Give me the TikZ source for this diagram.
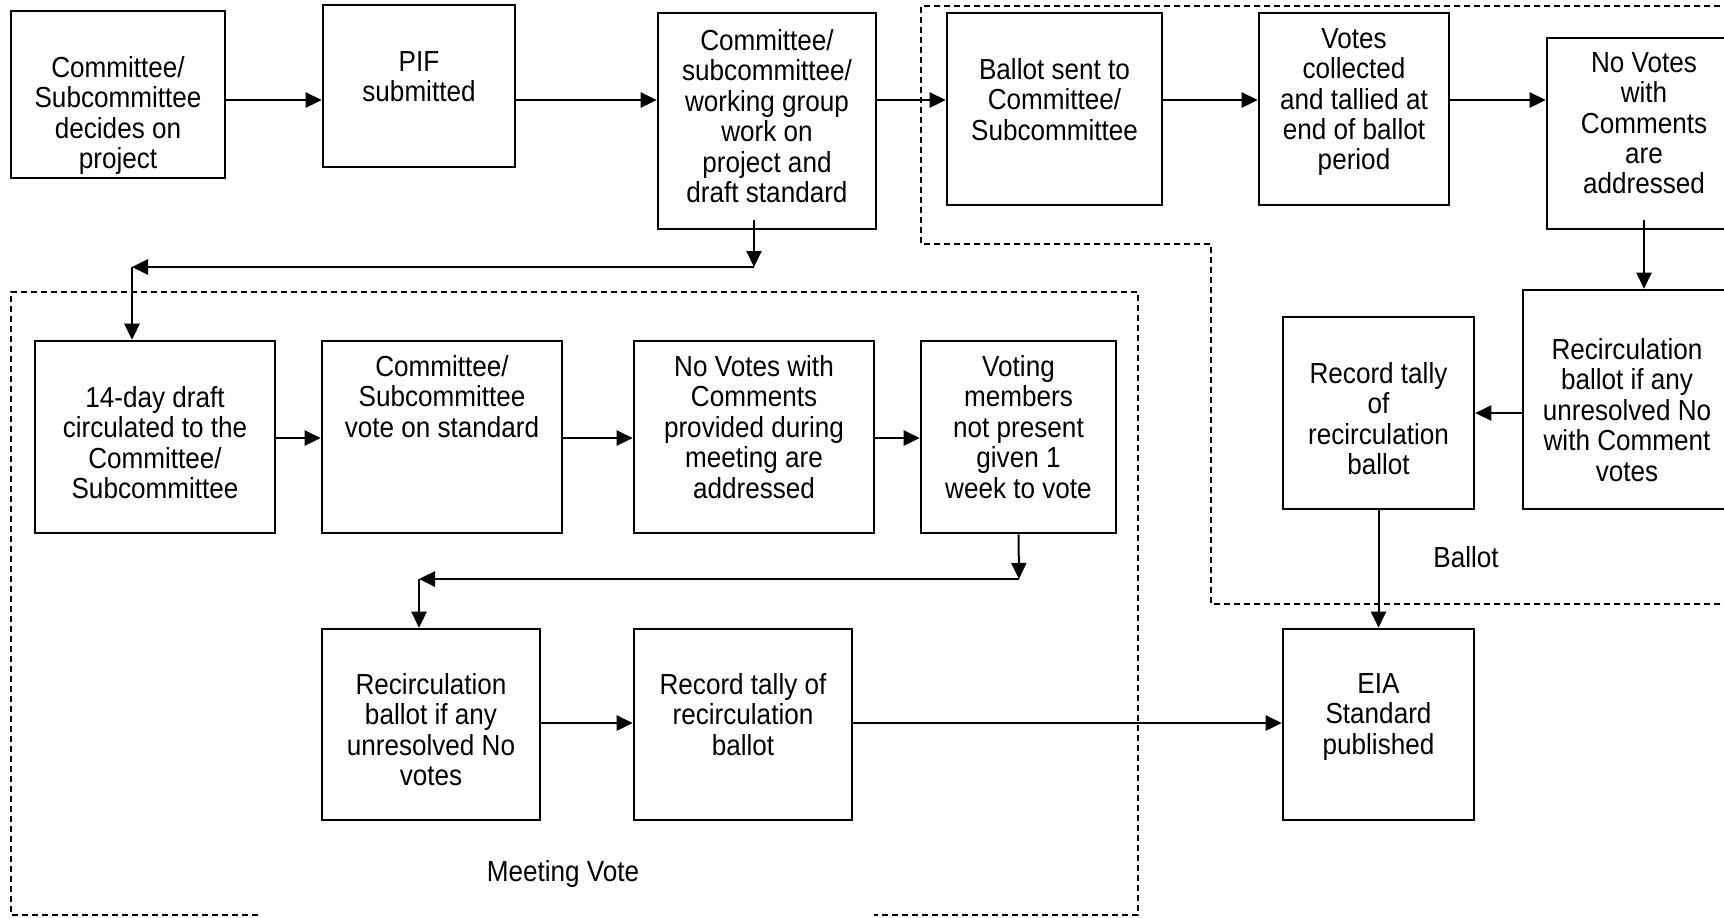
\documentclass[tikz,border=0pt]{standalone}
\usepackage{fontspec}
\setmainfont{Liberation Sans}[FakeStretch=0.9]
\usetikzlibrary{arrows.meta}
\begin{document}
\begin{tikzpicture}[x=0.5pt,y=-0.5pt,
  box/.style={draw, line width=1.3pt, rectangle, inner sep=0pt},
  txt/.style={align=center, inner sep=0pt, font=\fontsize{14.5pt}{15.2pt}\selectfont, anchor=north},
  lbl/.style={inner sep=0pt, font=\fontsize{14.5pt}{15.2pt}\selectfont, anchor=base},
  arr/.style={line width=1.3pt, -{Triangle[length=8pt,width=7.5pt]}},
  thinarr/.style={arr, line width=1pt},
  zone/.style={line width=1pt, dash pattern=on 3pt off 2pt}]
\useasboundingbox (0,0) rectangle (1724,917);
\clip (0,0) rectangle (1724,917);
% box helper: name, left, top, right, bottom (pixel grid, y downwards)
\newcommand\mkbox[5]{\node[box, minimum width={(#4-#2)*0.5pt}, minimum height={(#5-#3)*0.5pt}] (#1) at ({(#2+#4)/2},{(#3+#5)/2}) {};}
% top row
\mkbox{b1}{11}{11}{225}{178}
\mkbox{b2}{323}{5}{515}{167}
\mkbox{b3}{658}{13}{876}{229}
\mkbox{b4}{947}{13}{1162}{205}
\mkbox{b5}{1259}{13}{1449}{205}
\mkbox{b6}{1547}{38}{1741}{229}
% right column
\mkbox{b7}{1523}{290}{1731}{509}
\mkbox{b8}{1283}{317}{1474}{509}
\mkbox{b9}{1283}{629}{1474}{820}
% meeting vote rows
\mkbox{b10}{35}{341}{275}{533}
\mkbox{b11}{322}{341}{562}{533}
\mkbox{b12}{634}{341}{874}{533}
\mkbox{b13}{921}{341}{1116}{533}
\mkbox{b14}{322}{629}{540}{820}
\mkbox{b15}{634}{629}{852}{820}
% texts
\node[txt] (t1) at (b1.north |- 0,56) {Committee/\\Subcommittee\\decides on\\project};
\node[txt] (t2) at (b2.north |- 0,51) {PIF\\submitted};
\node[txt] (t3) at (b3.north |- 0,29) {Committee/\\subcommittee/\\working group\\work on\\project and\\draft standard};
\node[txt] (t4) at (b4.north |- 0,58) {Ballot sent to\\Committee/\\Subcommittee};
\node[txt] (t5) at (b5.north |- 0,28) {Votes\\collected\\and tallied at\\end of ballot\\period};
\node[txt] (t6) at (1644,52) {No Votes\\with\\Comments\\are\\addressed};
\node[txt] (t7) at (1627,338) {Recirculation\\ballot if any\\unresolved No\\with Comment\\votes};
\node[txt] (t8) at (b8.north |- 0,362) {Record tally\\of\\recirculation\\ballot};
\node[txt] (t9) at (b9.north |- 0,673) {EIA\\Standard\\published};
\node[txt] (t10) at (b10.north |- 0,386) {14-day draft\\circulated to the\\Committee/\\Subcommittee};
\node[txt] (t11) at (b11.north |- 0,355) {Committee/\\Subcommittee\\vote on standard};
\node[txt] (t12) at (b12.north |- 0,355) {No Votes with\\Comments\\provided during\\meeting are\\addressed};
\node[txt] (t13) at (b13.north |- 0,355) {Voting\\members\\not present\\given 1\\week to vote};
\node[txt] (t14) at (b14.north |- 0,673) {Recirculation\\ballot if any\\unresolved No\\votes};
\node[txt] (t15) at (b15.north |- 0,673) {Record tally of\\recirculation\\ballot};
% group frames
\draw[zone] (258,915) -- (11,915) -- (11,292) -- (1138,292) -- (1138,915) -- (874,915);
\draw[zone] (1740,5.5) -- (921,5.5) -- (921,244) -- (1211,244) -- (1211,604) -- (1740,604);
\node[lbl] (lballot) at (1466,567) {Ballot};
\node[lbl] (lmeet) at (563,881) {Meeting Vote};
% junction points
\coordinate (s3) at (754,220);
\coordinate (j1) at (754,267);
\coordinate (j2) at (132,267);
\coordinate (s6) at (1644,220);
\coordinate (j3) at (1019,579);
\coordinate (j4) at (419,579);
% connectors
\draw[arr] (b1.east |- 0,100) -- (b2.west |- 0,100);
\draw[arr] (b2.east |- 0,100) -- (b3.west |- 0,100);
\draw[arr] (b3.east |- 0,100) -- (b4.west |- 0,100);
\draw[arr] (b4.east |- 0,100) -- (b5.west |- 0,100);
\draw[arr] (b5.east |- 0,100) -- (b6.west |- 0,100);
\draw[thinarr] (s3) -- (j1);
\draw[arr] (j1) -- (j2);
\draw[arr] (j2) -- (b10.north -| j2);
\draw[thinarr] (s6) -- (b7.north -| s6);
\draw[arr] (b7.west |- 0,413) -- (b8.east |- 0,413);
\draw[thinarr] (b8.south) -- (b9.north);
\draw[arr] (b10.east |- 0,438) -- (b11.west |- 0,438);
\draw[arr] (b11.east |- 0,438) -- (b12.west |- 0,438);
\draw[arr] (b12.east |- 0,438) -- (b13.west |- 0,438);
\draw[thinarr] (b13.south) -- (j3);
\draw[arr] (j3) -- (j4);
\draw[arr] (j4) -- (b14.north -| j4);
\draw[arr] (b14.east |- 0,723) -- (b15.west |- 0,723);
\draw[arr] (b15.east |- 0,723) -- (b9.west |- 0,723);
\end{tikzpicture}
\end{document}
